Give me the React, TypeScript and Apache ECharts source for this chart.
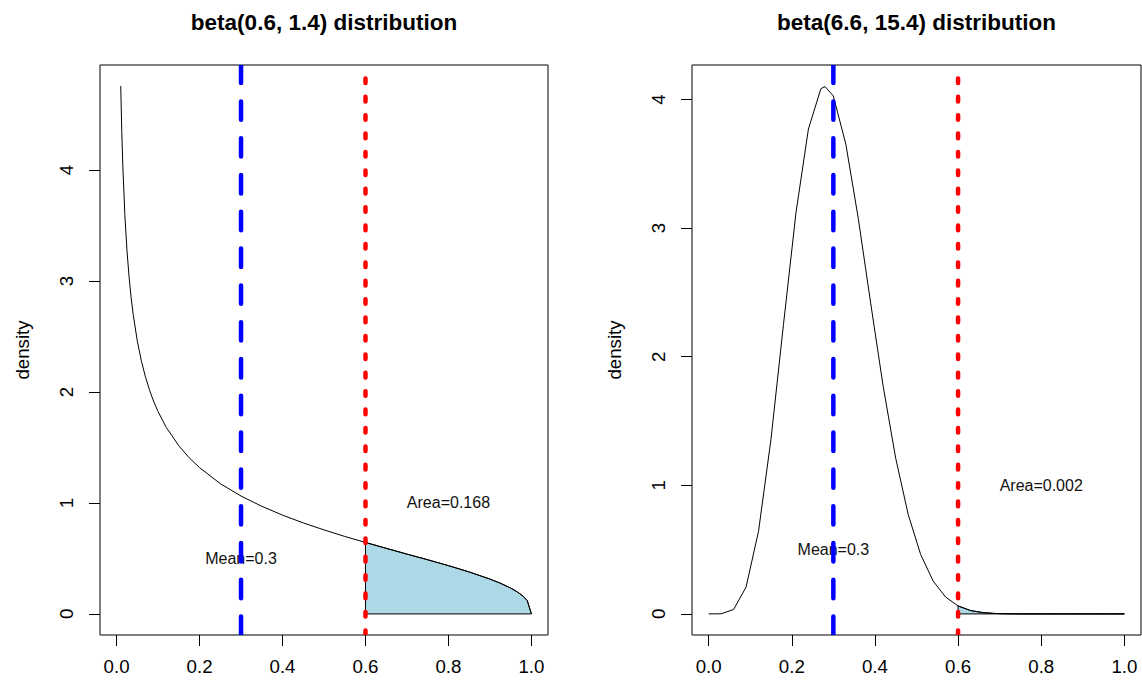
import React, { useEffect, useRef } from "react";
import * as echarts from "echarts";

// ---- data ----
const leftX = [0.01, 0.0125, 0.015, 0.02, 0.025, 0.03, 0.035, 0.04, 0.05, 0.06, 0.07, 0.08, 0.09, 0.1, 0.12, 0.15, 0.175, 0.2, 0.25, 0.3, 0.35, 0.4, 0.45, 0.5, 0.55, 0.6, 0.65, 0.7, 0.75, 0.8, 0.85, 0.9, 0.925, 0.95, 0.96, 0.97, 0.98, 0.99, 1.0];
const leftY = [4.756, 4.346, 4.036, 3.59, 3.277, 3.04, 2.852, 2.698, 2.457, 2.275, 2.13, 2.01, 1.909, 1.823, 1.679, 1.515, 1.407, 1.318, 1.174, 1.062, 0.97, 0.89, 0.82, 0.757, 0.698, 0.644, 0.591, 0.539, 0.488, 0.435, 0.378, 0.314, 0.277, 0.233, 0.212, 0.188, 0.16, 0.12, 0];

const rightX = [0, 0.03, 0.06, 0.09, 0.12, 0.15, 0.18, 0.21, 0.24, 0.27, 0.28, 0.3, 0.33, 0.36, 0.39, 0.42, 0.45, 0.48, 0.51, 0.54, 0.57, 0.6, 0.63, 0.66, 0.69, 0.72, 0.75, 0.78, 0.81, 0.84, 0.87, 0.9, 0.93, 0.96, 0.99, 1.0];
const rightY = [0, 0.001, 0.034, 0.208, 0.642, 1.359, 2.249, 3.117, 3.77, 4.084, 4.1, 4.027, 3.653, 3.075, 2.411, 1.766, 1.21, 0.774, 0.462, 0.256, 0.131, 0.062, 0.026, 0.01, 0.003, 0.001, 0, 0, 0, 0, 0, 0, 0, 0, 0, 0];

const xTicks = [0, 0.2, 0.4, 0.6, 0.8, 1.0];
const leftYTicks = [0, 1, 2, 3, 4];
const rightYTicks = [0, 1, 2, 3, 4];

const titles = ["beta(0.6, 1.4) distribution", "beta(6.6, 15.4) distribution"];
const meanValue = 0.3;
const cutValue = 0.6;
const areaLabels = ["Area=0.168", "Area=0.002"];
const meanLabel = "Mean=0.3";

const FONT = '"Liberation Sans", Arial, Helvetica, sans-serif';

export default function App() {
  const ref = useRef<HTMLDivElement>(null);

  useEffect(() => {
    if (!ref.current) return;
    const chart = echarts.init(ref.current, undefined, { renderer: "svg" });

    const yRanges = [
      [-0.19, 4.946],
      [-0.164, 4.268],
    ];
    const curves = [
      { xs: leftX, ys: leftY },
      { xs: rightX, ys: rightY },
    ];

    const xAxes: any[] = [0, 1].map((i) => ({
      gridIndex: i,
      type: "value",
      position: "bottom",
      min: -0.04,
      max: 1.04,
      axisLine: { show: false, onZero: false },
      splitLine: { show: false },
      axisTick: {
        show: true,
        inside: false,
        length: 11,
        customValues: xTicks,
        lineStyle: { color: "#000", width: 1 },
      },
      axisLabel: {
        customValues: xTicks,
        formatter: (v: number) => v.toFixed(1),
        fontSize: 18.7,
        fontFamily: FONT,
        color: "#000",
        margin: 22,
      },
    }));

    const yAxes: any[] = [0, 1].map((i) => ({
      gridIndex: i,
      type: "value",
      position: "left",
      min: yRanges[i][0],
      max: yRanges[i][1],
      axisLine: { show: false, onZero: false },
      splitLine: { show: false },
      axisTick: {
        show: true,
        inside: false,
        length: 11,
        customValues: i === 0 ? leftYTicks : rightYTicks,
        lineStyle: { color: "#000", width: 1 },
      },
      axisLabel: {
        customValues: i === 0 ? leftYTicks : rightYTicks,
        formatter: (v: number) => String(Math.round(v)),
        rotate: 90,
        fontSize: 18.7,
        fontFamily: FONT,
        color: "#000",
        margin: 24,
      },
    }));

    const series: any[] = [];
    [0, 1].forEach((i) => {
      const c = curves[i];
      const yMin = yRanges[i][0];
      const yMax = yRanges[i][1];
      // shaded area beyond cut
      const sx: number[] = [];
      const sy: number[] = [];
      c.xs.forEach((x, k) => {
        if (x >= cutValue - 1e-9) {
          sx.push(x);
          sy.push(c.ys[k]);
        }
      });
      series.push({
        type: "custom",
        xAxisIndex: i,
        yAxisIndex: i,
        data: [0],
        z: 1,
        silent: true,
        renderItem: (_p: any, api: any) => {
          const pts = sx.map((x, k) => api.coord([x, sy[k]]));
          pts.push(api.coord([sx[sx.length - 1], 0]));
          pts.push(api.coord([sx[0], 0]));
          return {
            type: "polygon",
            shape: { points: pts },
            style: { fill: "#ADD8E6", stroke: "#000", lineWidth: 1 },
          };
        },
      });
      // density curve
      series.push({
        type: "line",
        xAxisIndex: i,
        yAxisIndex: i,
        data: c.xs.map((x, k) => [x, c.ys[k]]),
        showSymbol: false,
        symbol: "none",
        lineStyle: { color: "#000", width: 1 },
        z: 2,
        silent: true,
      });
      // texts
      const texts = [
        { x: meanValue, y: 0.5, t: meanLabel },
        { x: 0.8, y: 1.0, t: areaLabels[i] },
      ];
      series.push({
        type: "custom",
        xAxisIndex: i,
        yAxisIndex: i,
        data: texts.map((_, k) => k),
        z: 3,
        silent: true,
        renderItem: (params: any, api: any) => {
          const d = texts[params.dataIndex];
          const p = api.coord([d.x, d.y]);
          return {
            type: "text",
            x: p[0],
            y: p[1],
            style: {
              text: d.t,
              fill: "#111",
              font: `16px ${FONT}`,
              align: "center",
              verticalAlign: "middle",
              textAlign: "center",
              textVerticalAlign: "middle",
            },
          };
        },
      });
      // vertical lines
      const vlines = [
        { x: meanValue, color: "#0000FF", dash: [18.4, 18.4] },
        { x: cutValue, color: "#FF0000", dash: [4.6, 13.8] },
      ];
      series.push({
        type: "custom",
        xAxisIndex: i,
        yAxisIndex: i,
        data: vlines.map((_, k) => k),
        z: 4,
        clip: true,
        silent: true,
        renderItem: (params: any, api: any) => {
          const v = vlines[params.dataIndex];
          const a = api.coord([v.x, yMin]);
          const b = api.coord([v.x, yMax]);
          return {
            type: "line",
            shape: { x1: a[0], y1: a[1], x2: b[0], y2: b[1] },
            style: {
              stroke: v.color,
              lineWidth: 4.5,
              lineDash: v.dash,
              lineCap: "round",
            },
          };
        },
      });
    });

    const centers = [324, 916.5];
    const graphic: any[] = [];
    [0, 1].forEach((i) => {
      graphic.push({
        type: "text",
        x: centers[i],
        y: 22,
        style: {
          text: titles[i],
          font: `bold 22.5px ${FONT}`,
          fill: "#000",
          align: "center",
          verticalAlign: "middle",
          textAlign: "center",
          textVerticalAlign: "middle",
        },
      });
      graphic.push({
        type: "text",
        x: 22 + i * 592,
        y: 350,
        rotation: Math.PI / 2,
        style: {
          text: "density",
          font: `18.7px ${FONT}`,
          fill: "#000",
          align: "center",
          verticalAlign: "middle",
          textAlign: "center",
          textVerticalAlign: "middle",
        },
      });
    });

    chart.setOption({
      animation: false,
      backgroundColor: "#fff",
      grid: [
        { left: 100, top: 65, width: 448, height: 570, show: true, borderColor: "#000", borderWidth: 1, backgroundColor: "transparent" },
        { left: 692, top: 65, width: 449, height: 570, show: true, borderColor: "#000", borderWidth: 1, backgroundColor: "transparent" },
      ],
      xAxis: xAxes,
      yAxis: yAxes,
      series,
      graphic,
    });

    return () => chart.dispose();
  }, []);

  return (
    <div
      ref={ref}
      style={{ position: "fixed", left: 0, top: 0, width: 1142, height: 680 }}
    />
  );
}
